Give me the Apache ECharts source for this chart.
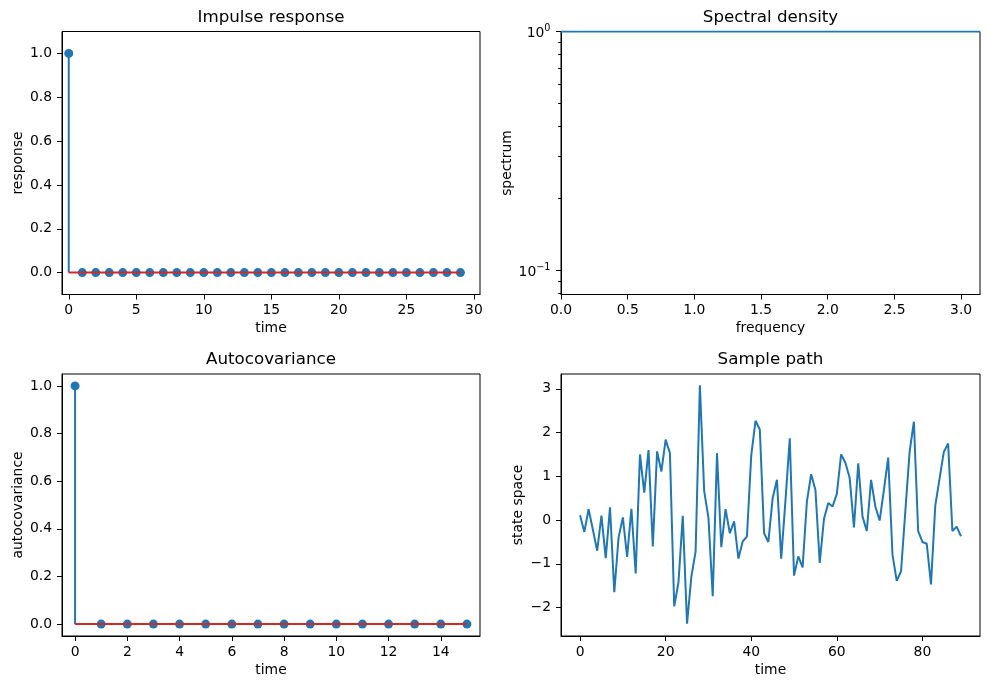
<!DOCTYPE html>
<html><head><meta charset="utf-8">
<script src="https://cdn.jsdelivr.net/npm/echarts@6/dist/echarts.min.js"></script>
<style>html,body{margin:0;padding:0;background:#fff}#c{width:990px;height:690px}</style>
</head><body><div id="c"></div>
<script>
// ---- data ----
const impulseTime = [0,1,2,3,4,5,6,7,8,9,10,11,12,13,14,15,16,17,18,19,20,21,22,23,24,25,26,27,28,29];
const impulseValues = [1,0,0,0,0,0,0,0,0,0,0,0,0,0,0,0,0,0,0,0,0,0,0,0,0,0,0,0,0,0];
const acovTime = [0,1,2,3,4,5,6,7,8,9,10,11,12,13,14,15];
const acovValues = [1,0,0,0,0,0,0,0,0,0,0,0,0,0,0,0];
const freqs = [0, 3.14159];
const spectrum = [1, 1];
const pathTime = [0,1,2,3,4,5,6,7,8,9,10,11,12,13,14,15,16,17,18,19,20,21,22,23,24,25,26,27,28,29,
  30,31,32,33,34,35,36,37,38,39,40,41,42,43,44,45,46,47,48,49,50,51,52,53,54,55,56,57,58,59,
  60,61,62,63,64,65,66,67,68,69,70,71,72,73,74,75,76,77,78,79,80,81,82,83,84,85,86,87,88,89];
const pathValues = [0.11,-0.27,0.25,-0.22,-0.70,0.10,-0.87,0.29,-1.65,-0.40,
  0.06,-0.84,0.26,-1.22,1.50,0.63,1.60,-0.60,1.57,1.11,
  1.84,1.53,-1.97,-1.42,0.10,-2.37,-1.30,-0.72,3.08,0.67,
  0.05,-1.74,1.53,-0.62,0.25,-0.30,-0.03,-0.88,-0.49,-0.37,
  1.48,2.27,2.07,-0.30,-0.50,0.50,0.92,-0.88,0.45,1.87,
  -1.27,-0.83,-1.08,0.42,1.05,0.69,-0.98,0.03,0.39,0.31,
  0.60,1.50,1.31,0.96,-0.17,1.30,0.08,-0.25,0.92,0.31,
  -0.01,0.69,1.43,-0.79,-1.39,-1.17,0.20,1.56,2.25,-0.25,
  -0.50,-0.54,-1.47,0.33,0.95,1.56,1.75,-0.25,-0.15,-0.37];
// ---- tick labels ----
const impulseXTicks = [0,5,10,15,20,25,30];
const unitYTicks = [0,0.2,0.4,0.6,0.8,1.0];
const acovXTicks = [0,2,4,6,8,10,12,14];
const freqTicks = [0,0.5,1.0,1.5,2.0,2.5,3.0];
const specMajorTicks = [0.1, 1];
const specMajorExponents = ['\u22121', '0'];
const specMinorTicks = [0.08,0.09,0.2,0.3,0.4,0.5,0.6,0.7,0.8,0.9];
const pathXTicks = [0,20,40,60,80];
const pathYTicks = [-2,-1,0,1,2,3];

const FONT = 'DejaVu Sans';
const BLUE = '#1f77b4', RED = '#d62728';
const TICK_FS = 13.9;

function fmtMinus(v){ return String(v).replace('-', '\u2212'); }

function axis(o){
  const a = {
    type: o.type || 'value', gridIndex: o.grid, min: o.min, max: o.max,
    position: o.position,
    name: o.name || '', nameLocation: 'middle', nameGap: o.nameGap,
    nameTextStyle: {fontFamily: FONT, fontSize: TICK_FS, color: '#000'},
    axisLine: {show: true, onZero: false, lineStyle: {color: '#000', width: 1}},
    axisTick: {show: true, length: o.tickLen || 5, inside: false, lineStyle: {color: '#000', width: 1}, customValues: o.ticks},
    axisLabel: {show: o.labels !== false, customValues: o.ticks, formatter: o.fmt, color: '#000', fontFamily: FONT, fontSize: TICK_FS, margin: o.margin},
    splitLine: {show: false}, minorTick: {show: false}
  };
  if (o.rich) { a.axisLabel.rich = o.rich; a.axisLabel.padding = o.padding; }
  if (o.logBase) a.logBase = o.logBase;
  if (o.hideLine) a.axisLine.show = false;
  return a;
}

function stem(xi, xs, ys){
  return {
    type: 'custom', xAxisIndex: xi, yAxisIndex: xi, z: 2, silent: true,
    data: xs.map((x, i) => [x, ys[i]]),
    renderItem: function(params, api){
      const p0 = api.coord([api.value(0), 0]);
      const p1 = api.coord([api.value(0), api.value(1)]);
      return {type: 'line', shape: {x1: p0[0], y1: p0[1], x2: p1[0], y2: p1[1]}, style: {stroke: BLUE, lineWidth: 2}};
    }
  };
}

const chart = echarts.init(document.getElementById('c'), null, {renderer: 'canvas'});
const grids = [
  {left: 62, top: 31.5, width: 418, height: 263},
  {left: 561, top: 31.5, width: 419, height: 263},
  {left: 62, top: 374, width: 418, height: 262},
  {left: 561, top: 374, width: 419, height: 262}
].map(g => Object.assign(g, {show: true, borderColor: '#000', borderWidth: 1, containLabel: false}));

const f1 = v => v.toFixed(1);
const specRich = {
  b: {fontFamily: FONT, fontSize: TICK_FS, color: '#000', lineHeight: 20, verticalAlign: 'middle'},
  s: {fontFamily: FONT, fontSize: 9.7, color: '#000', lineHeight: 12, verticalAlign: 'top'}
};
const option = {
  animation: false,
  backgroundColor: '#fff',
  grid: grids,
  xAxis: [
    axis({grid: 0, min: -0.5, max: 30.45, ticks: impulseXTicks, fmt: v => String(v), name: 'time', nameGap: 27, margin: 9}),
    axis({grid: 1, min: 0, max: 3.14159, ticks: freqTicks, fmt: f1, name: 'frequency', nameGap: 27, margin: 9}),
    axis({grid: 2, min: -0.5, max: 15.5, ticks: acovXTicks, fmt: v => String(v), name: 'time', nameGap: 27, margin: 9}),
    axis({grid: 3, min: -4.45, max: 93.45, ticks: pathXTicks, fmt: v => String(v), name: 'time', nameGap: 27, margin: 9})
  ],
  yAxis: [
    axis({grid: 0, min: -0.1, max: 1.1, ticks: unitYTicks, fmt: f1, name: 'response', nameGap: 37, margin: 10}),
    axis({grid: 1, type: 'log', logBase: 10, min: 0.0792, max: 1, ticks: specMajorTicks,
          fmt: v => { const k = specMajorTicks.findIndex(t => Math.abs(t - v) < 1e-9); return k < 0 ? '' : '{b|10}{s|' + specMajorExponents[k] + '}'; },
          rich: specRich, padding: [4, 0, 0, 0],
          name: 'spectrum', nameGap: 46, margin: 10.5}),
    axis({grid: 2, min: -0.05, max: 1.05, ticks: unitYTicks, fmt: f1, name: 'autocovariance', nameGap: 37, margin: 10}),
    axis({grid: 3, min: -2.65, max: 3.34, ticks: pathYTicks, fmt: fmtMinus, name: 'state space', nameGap: 36, margin: 10}),
    axis({grid: 1, type: 'log', logBase: 10, min: 0.0792, max: 1, ticks: specMinorTicks, labels: false, hideLine: true, tickLen: 2.8, position: 'left'})
  ],
  graphic: [
    {type: 'text', x: 271, y: 18, style: {text: 'Impulse response', align: 'center', verticalAlign: 'middle', fontFamily: FONT, fontSize: 16.7, fill: '#000'}},
    {type: 'text', x: 770.5, y: 18, style: {text: 'Spectral density', align: 'center', verticalAlign: 'middle', fontFamily: FONT, fontSize: 16.7, fill: '#000'}},
    {type: 'text', x: 271, y: 360, style: {text: 'Autocovariance', align: 'center', verticalAlign: 'middle', fontFamily: FONT, fontSize: 16.7, fill: '#000'}},
    {type: 'text', x: 770.5, y: 360, style: {text: 'Sample path', align: 'center', verticalAlign: 'middle', fontFamily: FONT, fontSize: 16.7, fill: '#000'}}
  ],
  series: [
    stem(0, impulseTime, impulseValues),
    {type: 'scatter', xAxisIndex: 0, yAxisIndex: 0, z: 3, symbol: 'circle', symbolSize: 9, itemStyle: {color: BLUE, opacity: 1},
     data: impulseTime.map((x, i) => [x, impulseValues[i]])},
    {type: 'line', xAxisIndex: 0, yAxisIndex: 0, z: 4, showSymbol: false, lineStyle: {color: RED, width: 2},
     data: [[impulseTime[0], 0], [impulseTime[impulseTime.length - 1], 0]]},

    {type: 'line', xAxisIndex: 1, yAxisIndex: 1, z: 3, showSymbol: false, lineStyle: {color: BLUE, width: 2},
     data: freqs.map((f, i) => [f, spectrum[i]])},

    stem(2, acovTime, acovValues),
    {type: 'scatter', xAxisIndex: 2, yAxisIndex: 2, z: 3, symbol: 'circle', symbolSize: 9, itemStyle: {color: BLUE, opacity: 1},
     data: acovTime.map((x, i) => [x, acovValues[i]])},
    {type: 'line', xAxisIndex: 2, yAxisIndex: 2, z: 4, showSymbol: false, lineStyle: {color: RED, width: 2},
     data: [[acovTime[0], 0], [acovTime[acovTime.length - 1], 0]]},

    {type: 'line', xAxisIndex: 3, yAxisIndex: 3, z: 3, showSymbol: false, lineStyle: {color: BLUE, width: 2},
     data: pathTime.map((t, i) => [t, pathValues[i]])}
  ]
};
chart.setOption(option);
</script></body></html>
